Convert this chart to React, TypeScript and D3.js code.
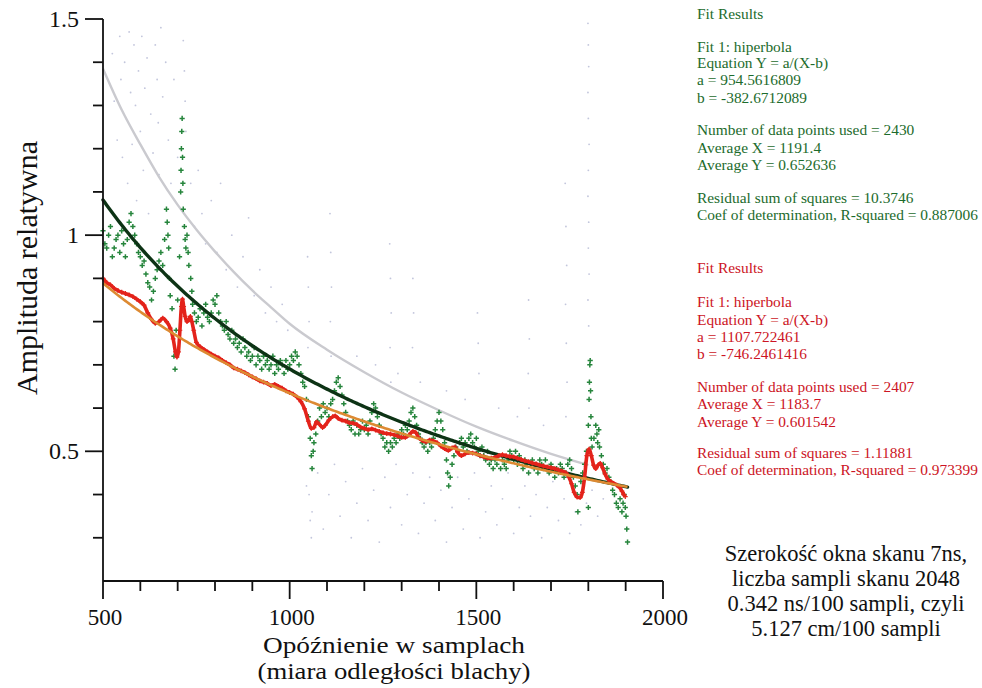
import React from 'react';
import * as d3 from 'd3';

// ---------- axis ----------
const xMajorTicks = [500, 1000, 1500, 2000];
const xMinorTicks = [600, 700, 800, 900, 1100, 1200, 1300, 1400, 1600, 1700, 1800, 1900];
const yMajorTicks = [0.5, 1, 1.5];
const yMajorLabels = ['0.5', '1', '1.5'];
const yMinorTicks = [0.3, 0.4, 0.6, 0.7, 0.8, 0.9, 1.1, 1.2, 1.3, 1.4];

// ---------- fit parameters (from the chart text) ----------
const greenFit = { a: 954.5616809, b: -382.6712089 };
const redFit = { a: 1107.722461, b: -746.2461416 };
const fitRange = [500, 1905];

// gray fitted curve
const grayFit: [number, number][] = [
  [500, 1.385], [550, 1.29], [600, 1.21], [650, 1.135], [700, 1.07], [750, 1.013], [800, 0.962],
  [850, 0.915], [900, 0.872], [950, 0.833], [1000, 0.795], [1100, 0.735], [1200, 0.683],
  [1300, 0.636], [1400, 0.595], [1500, 0.557], [1600, 0.524], [1700, 0.494], [1800, 0.468],
];

// ---------- green measured points ----------
const greenPts: [number, number][] = [
  [500,1.01],[505,0.98],[510,0.97],[515,1.00],[520,1.02],[525,0.95],[530,0.97],[535,0.99],[540,1.00],[545,0.96],
  [550,1.01],[555,0.98],[560,0.95],[565,0.99],[570,1.03],[575,1.05],[580,1.02],[585,1.00],[590,0.98],[595,0.96],
  [600,0.95],[605,0.93],[610,0.94],[615,0.91],[620,0.89],[625,0.88],[630,0.85],[635,0.87],[640,0.90],[645,0.92],
  [650,0.94],[655,0.96],[660,0.93],[665,0.99],[670,1.06],[672,1.03],[674,1.00],[676,0.97],[678,0.90],[680,0.86],
  [685,0.83],[690,0.72],[693,0.69],[696,0.78],[700,0.85],[705,0.95],[708,1.10],[709,1.15],[710,1.20],[711,1.24],
  [712,1.27],[713,1.18],[714,1.12],[715,1.06],[718,1.02],[720,0.99],[722,0.97],[725,1.00],[728,0.96],[730,0.93],
  [735,0.90],[738,0.87],[740,0.84],[745,0.82],[750,0.80],[755,0.81],[760,0.83],[765,0.79],[770,0.82],[775,0.84],
  [780,0.81],[785,0.80],[790,0.82],[795,0.85],[800,0.84],[805,0.86],[810,0.82],[815,0.80],[820,0.79],[825,0.78],
  [830,0.80],[835,0.77],[840,0.76],[845,0.78],[850,0.75],[855,0.76],[860,0.74],[865,0.75],[870,0.73],[875,0.76],
  [880,0.74],[885,0.72],[890,0.73],[895,0.71],[900,0.72],[905,0.74],[910,0.70],[915,0.72],[920,0.71],[925,0.69],
  [930,0.72],[935,0.70],[940,0.71],[945,0.69],[950,0.70],[955,0.72],[960,0.68],[965,0.70],[970,0.69],[975,0.71],
  [980,0.70],[985,0.68],[990,0.71],[995,0.69],[1000,0.70],[1005,0.72],[1010,0.71],[1015,0.73],[1020,0.72],[1025,0.70],
  [1030,0.68],[1035,0.66],[1040,0.65],[1045,0.62],[1050,0.58],[1055,0.53],[1058,0.49],[1060,0.46],[1063,0.50],[1065,0.52],
  [1070,0.54],[1075,0.57],[1080,0.60],[1085,0.58],[1090,0.61],[1095,0.59],[1100,0.60],[1105,0.58],[1110,0.61],[1115,0.62],
  [1120,0.64],[1125,0.66],[1130,0.67],[1135,0.65],[1140,0.63],[1145,0.61],[1150,0.59],[1155,0.57],[1160,0.56],[1165,0.55],
  [1170,0.57],[1175,0.54],[1180,0.56],[1185,0.54],[1190,0.55],[1195,0.57],[1200,0.55],[1205,0.56],[1210,0.54],[1215,0.57],
  [1220,0.59],[1225,0.61],[1230,0.60],[1235,0.58],[1240,0.56],[1245,0.54],[1250,0.53],[1255,0.51],[1260,0.52],[1265,0.50],
  [1270,0.52],[1275,0.51],[1280,0.53],[1285,0.52],[1290,0.54],[1295,0.53],[1300,0.55],[1305,0.54],[1310,0.56],[1315,0.55],
  [1320,0.57],[1325,0.59],[1330,0.60],[1335,0.58],[1340,0.56],[1345,0.54],[1350,0.53],[1355,0.52],[1360,0.51],[1365,0.52],
  [1370,0.50],[1375,0.52],[1380,0.51],[1385,0.53],[1390,0.55],[1395,0.57],[1400,0.59],[1405,0.57],[1410,0.55],[1415,0.52],
  [1420,0.48],[1423,0.45],[1426,0.42],[1430,0.44],[1435,0.47],[1440,0.49],[1445,0.51],[1450,0.50],[1455,0.52],[1460,0.53],
  [1465,0.51],[1470,0.52],[1475,0.50],[1480,0.53],[1485,0.54],[1490,0.52],[1495,0.51],[1500,0.53],[1505,0.50],[1510,0.49],
  [1515,0.51],[1520,0.49],[1525,0.48],[1530,0.50],[1535,0.47],[1540,0.48],[1545,0.46],[1550,0.48],[1555,0.47],[1560,0.49],
  [1565,0.46],[1570,0.48],[1575,0.47],[1580,0.46],[1585,0.48],[1590,0.50],[1595,0.49],[1600,0.48],[1605,0.50],[1610,0.47],
  [1615,0.49],[1620,0.48],[1625,0.46],[1630,0.48],[1635,0.47],[1640,0.45],[1645,0.47],[1650,0.48],[1655,0.46],[1660,0.47],
  [1665,0.45],[1670,0.48],[1675,0.47],[1680,0.46],[1685,0.48],[1690,0.46],[1695,0.45],[1700,0.47],[1705,0.46],[1710,0.44],
  [1715,0.46],[1720,0.45],[1725,0.47],[1730,0.46],[1735,0.44],[1740,0.45],[1745,0.47],[1750,0.48],[1755,0.46],[1760,0.44],
  [1765,0.42],[1770,0.40],[1772,0.36],[1780,0.43],[1785,0.45],[1790,0.47],[1795,0.50],[1800,0.56],[1802,0.62],[1803,0.66],
  [1804,0.70],[1805,0.71],[1806,0.64],[1807,0.58],[1808,0.53],[1800,0.37],[1810,0.51],[1815,0.53],[1820,0.56],[1823,0.54],
  [1825,0.52],[1828,0.55],[1830,0.51],[1835,0.49],[1840,0.47],[1845,0.45],[1850,0.46],[1855,0.44],[1860,0.43],[1865,0.41],
  [1870,0.40],[1875,0.38],[1880,0.37],[1885,0.39],[1890,0.36],[1893,0.38],[1896,0.40],[1899,0.37],[1901,0.35],[1903,0.32],
  [1905,0.29],
];

// ---------- red measured trace ----------
const redPts: [number, number][] = [
  [500,0.90],[510,0.89],[520,0.885],[530,0.877],[540,0.872],[550,0.868],[560,0.865],[570,0.862],[580,0.858],[590,0.852],
  [600,0.846],[610,0.838],[620,0.82],[630,0.805],[640,0.796],[650,0.80],[660,0.808],[670,0.80],[680,0.785],[688,0.76],
  [694,0.73],[698,0.718],[702,0.73],[706,0.78],[710,0.835],[713,0.852],[716,0.835],[720,0.812],[725,0.80],[730,0.805],
  [734,0.812],[738,0.80],[743,0.78],[750,0.752],[760,0.742],[770,0.736],[780,0.73],[790,0.725],[800,0.72],[810,0.716],
  [820,0.71],[830,0.705],[840,0.70],[850,0.693],[860,0.69],[870,0.686],[880,0.682],[890,0.677],[900,0.672],[910,0.668],
  [920,0.663],[930,0.66],[940,0.657],[950,0.652],[960,0.655],[970,0.65],[980,0.646],[990,0.64],[1000,0.636],[1010,0.632],
  [1020,0.625],[1030,0.615],[1040,0.598],[1050,0.57],[1058,0.553],[1065,0.555],[1072,0.568],[1080,0.562],[1088,0.555],[1095,0.56],
  [1105,0.572],[1115,0.58],[1122,0.582],[1130,0.576],[1140,0.572],[1150,0.57],[1160,0.566],[1170,0.565],[1180,0.562],[1190,0.556],
  [1200,0.553],[1210,0.55],[1220,0.552],[1230,0.549],[1240,0.546],[1250,0.543],[1260,0.541],[1270,0.54],[1280,0.538],[1290,0.535],
  [1300,0.532],[1310,0.532],[1320,0.538],[1330,0.546],[1338,0.543],[1345,0.532],[1355,0.525],[1365,0.522],[1375,0.526],[1385,0.524],
  [1395,0.52],[1405,0.512],[1415,0.506],[1425,0.502],[1435,0.508],[1443,0.51],[1450,0.498],[1460,0.49],[1470,0.494],[1480,0.497],
  [1490,0.496],[1500,0.494],[1510,0.49],[1520,0.487],[1530,0.484],[1540,0.484],[1550,0.486],[1560,0.49],[1570,0.492],[1580,0.49],
  [1590,0.488],[1600,0.487],[1610,0.484],[1620,0.481],[1630,0.478],[1640,0.476],[1650,0.473],[1660,0.471],[1670,0.468],[1680,0.466],
  [1690,0.464],[1700,0.462],[1710,0.46],[1720,0.457],[1730,0.454],[1740,0.45],[1748,0.44],[1755,0.425],[1762,0.405],[1770,0.394],
  [1778,0.393],[1784,0.405],[1790,0.44],[1796,0.49],[1802,0.505],[1808,0.49],[1814,0.468],[1820,0.46],[1826,0.468],[1832,0.472],
  [1838,0.462],[1845,0.447],[1852,0.436],[1860,0.43],[1868,0.426],[1876,0.422],[1884,0.416],[1890,0.408],[1895,0.40],[1899,0.395],
];

// ---------- faint gray raw points ----------
const grayPts: [number, number][] = [
  [525,1.42],[530,1.31],[538,1.22],[545,1.46],[548,1.36],[552,1.18],[558,1.40],[562,1.27],[566,1.12],[570,1.47],
  [574,1.33],[578,1.21],[583,1.44],[587,1.30],[590,1.08],[595,1.38],[600,1.24],[604,1.46],[608,1.15],[612,1.34],
  [618,1.41],[622,1.05],[628,1.28],[634,1.19],[640,1.44],[645,1.36],[648,1.26],[650,1.14],[655,1.48],[660,1.32],
  [668,1.40],[675,1.22],[682,1.12],[690,1.36],[700,1.18],[715,1.45],[718,1.38],[720,1.31],[722,1.24],[735,1.12],
  [745,1.02],[755,1.15],[765,1.05],[775,0.98],[790,1.08],[805,0.96],[815,1.12],[830,0.92],[845,1.00],[860,0.88],
  [875,0.95],[890,1.04],[905,0.86],[920,0.92],[935,0.82],[950,0.88],[965,0.80],[980,0.84],[995,0.78],
  [1048,0.95],[1050,0.88],[1052,0.80],[1049,0.74],[1108,1.05],[1110,0.96],[1112,0.88],[1109,0.80],[1111,0.72],
  [1268,0.98],[1270,0.90],[1272,0.82],[1269,0.74],[1271,0.66],[1330,0.90],[1332,0.82],[1329,0.74],
  [1503,0.82],[1505,0.75],[1507,0.68],[1640,0.85],[1642,0.76],[1639,0.68],[1641,0.60],
  [1738,1.12],[1740,1.02],[1742,0.93],[1739,0.84],[1741,0.75],[1743,0.66],[1740,0.58],
  [1799,1.49],[1800,1.44],[1801,1.39],[1799,1.33],[1800,1.27],[1802,1.21],[1800,1.15],[1799,1.09],[1801,1.03],
  [1800,0.97],[1802,0.91],[1799,0.85],[1801,0.79],
  [1045,0.42],[1060,0.36],[1075,0.45],[1090,0.32],[1105,0.40],[1120,0.47],[1135,0.35],[1150,0.43],[1165,0.30],
  [1180,0.38],[1195,0.46],[1210,0.34],[1225,0.41],[1240,0.29],[1255,0.44],[1270,0.37],[1285,0.47],[1300,0.33],
  [1315,0.40],[1330,0.45],[1345,0.31],[1360,0.38],[1375,0.44],[1390,0.34],[1405,0.41],[1420,0.29],[1435,0.37],
  [1450,0.44],[1465,0.32],[1480,0.39],[1495,0.45],[1510,0.30],[1525,0.36],[1540,0.42],[1555,0.33],[1570,0.39],
  [1585,0.45],[1600,0.31],[1615,0.37],[1630,0.42],[1645,0.35],[1660,0.40],[1675,0.30],[1690,0.37],[1705,0.43],
  [1720,0.34],[1735,0.39],[1750,0.31],[1765,0.36],[1780,0.33],[1795,0.38],[1810,0.41],[1825,0.35],[1840,0.39],
  [1855,0.44],[1052,0.40],[1055,0.34],[1058,0.30],
  [1180,0.72],[1230,0.70],[1290,0.68],[1350,0.66],[1420,0.64],[1470,0.62],[1560,0.60],[1610,0.58],[1680,0.56],
];

// ---------- texts ----------
const greenLines = [
  'Fit Results', 'Fit 1: hiperbola', 'Equation Y = a/(X-b)', 'a = 954.5616809', 'b = -382.6712089',
  'Number of data points used = 2430', 'Average X = 1191.4', 'Average Y = 0.652636',
  'Residual sum of squares = 10.3746', 'Coef of determination, R-squared = 0.887006',
];
const greenLineY = [19, 52, 68, 85, 103, 135, 153, 170, 203, 220];
const redLines = [
  'Fit Results', 'Fit 1: hiperbola', 'Equation Y = a/(X-b)', 'a = 1107.722461', 'b = -746.2461416',
  'Number of data points used = 2407', 'Average X = 1183.7', 'Average Y = 0.601542',
  'Residual sum of squares = 1.11881', 'Coef of determination, R-squared = 0.973399',
];
const redLineY = [273, 307, 325, 342, 359, 392, 409, 427, 458, 475];
const noteLines = [
  'Szerokość okna skanu 7ns,', 'liczba sampli skanu 2048', '0.342 ns/100 sampli, czyli', '5.127 cm/100 sampli',
];
const xTitle = ['Opóźnienie w samplach', '(miara odległości blachy)'];
const xTitleWidths = [262, 273];
const yTitle = 'Amplituda relatywna';

const FONT = '"Liberation Serif", "Times New Roman", serif';

export default function App() {
  const x = d3.scaleLinear().domain([500, 2000]).range([103, 663]);
  const y = d3.scaleLinear().domain([0.2, 1.5]).range([581, 19]);

  const line = d3.line<[number, number]>().x(d => x(d[0])).y(d => y(d[1]));
  const smooth = d3.line<[number, number]>().x(d => x(d[0])).y(d => y(d[1])).curve(d3.curveMonotoneX);

  const fitXs = d3.range(fitRange[0], fitRange[1] + 1, 5);
  const greenFitPts: [number, number][] = fitXs.map(v => [v, greenFit.a / (v - greenFit.b)]);
  const redFitPts: [number, number][] = fitXs.map(v => [v, redFit.a / (v - redFit.b)]);

  const plus = (px: number, py: number, s: number) =>
    `M${px - s},${py}H${px + s}M${px},${py - s}V${py + s}`;
  const greenPath = greenPts.map(d => plus(x(d[0]), y(d[1]), 2.6)).join('');
  const redMarks = redPts.map(d => plus(x(d[0]), y(d[1]), 2.4)).join('');

  return (
    <svg width={982} height={688} style={{ position: 'absolute', left: 0, top: 0, background: '#fff' }}
      fontFamily={FONT}>
      <rect x={0} y={0} width={982} height={688} fill="#fff" />

      {/* faint gray raw points */}
      <g fill="#b4b8d4" opacity={0.8}>
        {grayPts.map((d, i) => (
          <circle key={i} cx={x(d[0])} cy={y(d[1])} r={0.9} />
        ))}
      </g>

      {/* gray fit */}
      <path d={smooth(grayFit) || ''} fill="none" stroke="#cacacf" strokeWidth={2.4} />

      {/* green points */}
      <path d={greenPath} stroke="#26853c" strokeWidth={1.5} fill="none" />

      {/* green fit */}
      <path d={line(greenFitPts) || ''} fill="none" stroke="#0d3315" strokeWidth={3.4} strokeLinecap="round" />

      {/* red trace */}
      <path d={smooth(redPts) || ''} fill="none" stroke="#e3231b" strokeWidth={3.6} strokeLinejoin="round" />
      <path d={redMarks} fill="none" stroke="#e3231b" strokeWidth={1.2} />

      {/* orange fit */}
      <path d={line(redFitPts) || ''} fill="none" stroke="#dd8a32" strokeWidth={2.6} />

      {/* axes */}
      <g stroke="#111" strokeWidth={1.8} fill="none">
        <line x1={x(500)} x2={x(500)} y1={y(1.5)} y2={y(0.2)} />
        <line x1={x(500)} x2={x(2000)} y1={y(0.2)} y2={y(0.2)} />
        {yMajorTicks.map(t => (
          <line key={'ym' + t} x1={x(500) - 18} x2={x(500)} y1={y(t)} y2={y(t)} />
        ))}
        {yMinorTicks.map(t => (
          <line key={'yn' + t} x1={x(500) - 10} x2={x(500)} y1={y(t)} y2={y(t)} />
        ))}
        {xMajorTicks.map(t => (
          <line key={'xm' + t} x1={x(t)} x2={x(t)} y1={y(0.2)} y2={y(0.2) + 18} />
        ))}
        {xMinorTicks.map(t => (
          <line key={'xn' + t} x1={x(t)} x2={x(t)} y1={y(0.2)} y2={y(0.2) + 10} />
        ))}
      </g>

      {/* tick labels */}
      <g fontSize={24} fill="#111">
        {yMajorTicks.map((t, i) => (
          <text key={'yl' + t} x={x(500) - 24} y={y(t) + 8} textAnchor="end">{yMajorLabels[i]}</text>
        ))}
      </g>
      <g fontSize={23} fill="#111">
        {xMajorTicks.map(t => (
          <text key={'xl' + t} x={x(t) + 2} y={625} textAnchor="middle">{t}</text>
        ))}
      </g>

      {/* axis titles */}
      <g fontSize={23} fill="#111" textAnchor="middle">
        {xTitle.map((s, i) => (
          <text key={'xt' + i} x={394} y={653 + i * 26} textLength={xTitleWidths[i]} lengthAdjust="spacingAndGlyphs">{s}</text>
        ))}
      </g>
      <text fontSize={28.5} fill="#111" textAnchor="middle" transform="translate(37,268) rotate(-90)"
        textLength={254} lengthAdjust="spacingAndGlyphs">{yTitle}</text>

      {/* fit results */}
      <g fontSize={15.4} fill="#1c6b2c">
        {greenLines.map((s, i) => (
          <text key={'g' + i} x={697} y={greenLineY[i]}>{s}</text>
        ))}
      </g>
      <g fontSize={15.4} fill="#cc1424">
        {redLines.map((s, i) => (
          <text key={'r' + i} x={697} y={redLineY[i]}>{s}</text>
        ))}
      </g>

      {/* note */}
      <g fontSize={22.5} fill="#111" textAnchor="middle">
        {noteLines.map((s, i) => (
          <text key={'n' + i} x={846} y={561 + i * 25}>{s}</text>
        ))}
      </g>
    </svg>
  );
}
